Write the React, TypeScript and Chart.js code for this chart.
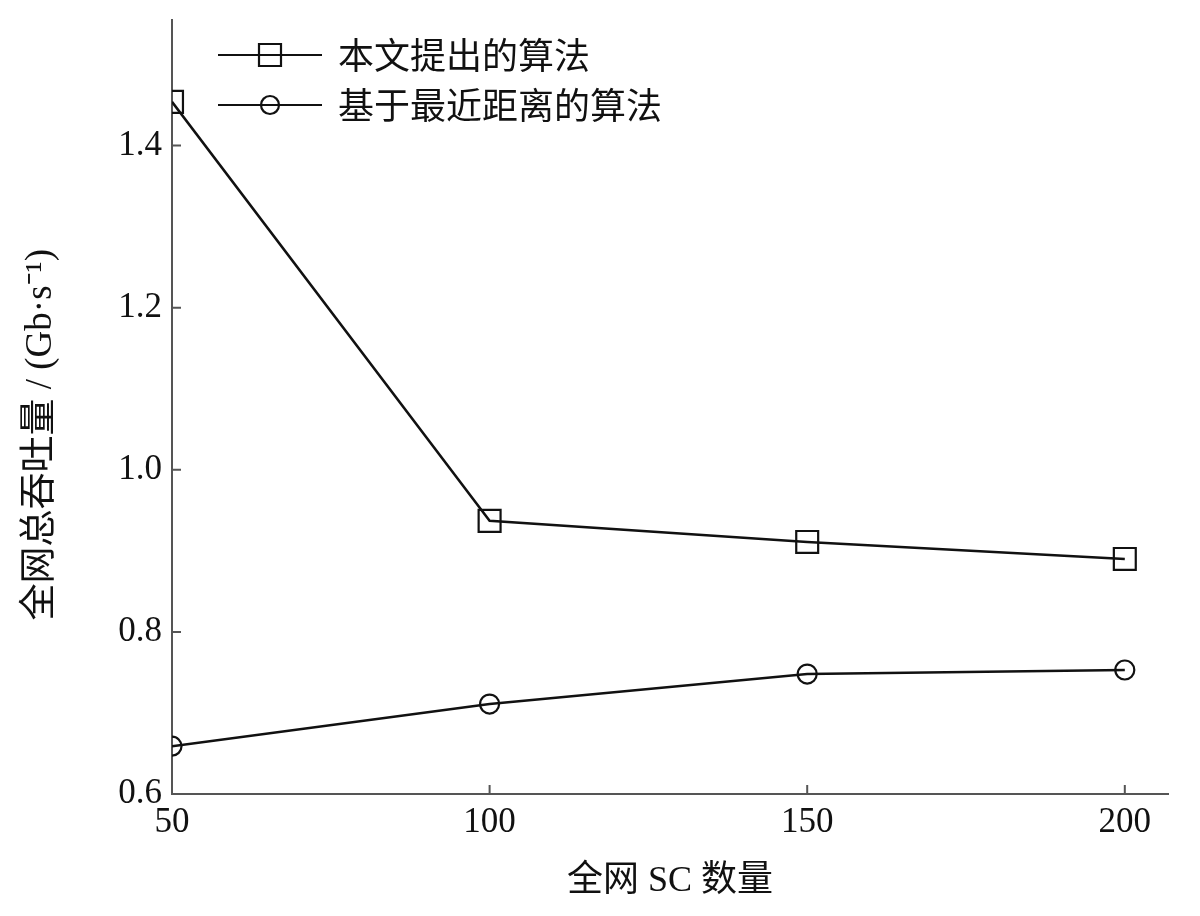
import React, { useEffect, useRef } from 'react';
import { Chart, registerables } from 'chart.js';

Chart.register(...registerables);

const xValues = [50, 100, 150, 200];
const proposed = [1.454, 0.937, 0.911, 0.89];
const nearest = [0.659, 0.711, 0.748, 0.753];
const xTicks = [50, 100, 150, 200];
const yTicks = [0.6, 0.8, 1.0, 1.2, 1.4];
const seriesNames = ['本文提出的算法', '基于最近距离的算法'];
const xTitle = '全网 SC 数量';
const yTitle = '全网总吞吐量 / (Gb·s⁻¹)';

const FONT = '"Liberation Serif", "Noto Sans CJK SC", serif';
const AXIS_COLOR = '#555';

const innerTicks = {
  id: 'innerTicks',
  afterDraw(chart: any) {
    const ctx = chart.ctx;
    const { left, bottom } = chart.chartArea;
    const xs = chart.scales.x;
    const ys = chart.scales.y;
    ctx.save();
    ctx.strokeStyle = AXIS_COLOR;
    ctx.lineWidth = 2;
    ctx.beginPath();
    yTicks.slice(1).forEach((v) => {
      const py = ys.getPixelForValue(v);
      ctx.moveTo(left, py);
      ctx.lineTo(left + 9, py);
    });
    xTicks.slice(1).forEach((v) => {
      const px = xs.getPixelForValue(v);
      ctx.moveTo(px, bottom);
      ctx.lineTo(px, bottom - 9);
    });
    ctx.stroke();
    ctx.restore();
  },
};

const insideLegend = {
  id: 'insideLegend',
  afterDatasetsDraw(chart: any) {
    const ctx = chart.ctx;
    const { left, top } = chart.chartArea;
    chart.data.datasets.forEach((ds: any, i: number) => {
      const y = top + 35 + i * 50;
      const x0 = left + 46;
      const x1 = left + 150;
      const xm = (x0 + x1) / 2;
      ctx.save();
      ctx.strokeStyle = ds.borderColor;
      ctx.lineWidth = 2.2;
      ctx.beginPath();
      ctx.moveTo(x0, y);
      ctx.lineTo(x1, y);
      ctx.stroke();
      ctx.beginPath();
      if (ds.pointStyle === 'rect') {
        ctx.rect(xm - 11, y - 11, 22, 22);
      } else {
        ctx.arc(xm, y, 9, 0, Math.PI * 2);
      }
      ctx.stroke();
      ctx.fillStyle = '#111';
      ctx.font = '36px "Noto Sans CJK SC", serif';
      ctx.textBaseline = 'middle';
      ctx.textAlign = 'left';
      ctx.fillText(ds.label, left + 166, y);
      ctx.restore();
    });
  },
};

export default function App() {
  const ref = useRef<HTMLCanvasElement | null>(null);
  useEffect(() => {
    if (!ref.current) return;
    const chart = new Chart(ref.current, {
      type: 'line',
      data: {
        datasets: [
          {
            label: seriesNames[0],
            data: xValues.map((x, i) => ({ x, y: proposed[i] })),
            borderColor: '#111',
            borderWidth: 2.5,
            pointStyle: 'rect',
            pointRadius: 15.5,
            pointBorderWidth: 2.2,
            pointBackgroundColor: 'rgba(0,0,0,0)',
            pointBorderColor: '#111',
            tension: 0,
          },
          {
            label: seriesNames[1],
            data: xValues.map((x, i) => ({ x, y: nearest[i] })),
            borderColor: '#111',
            borderWidth: 2.5,
            pointStyle: 'circle',
            pointRadius: 9.5,
            pointBorderWidth: 2.2,
            pointBackgroundColor: 'rgba(0,0,0,0)',
            pointBorderColor: '#111',
            tension: 0,
          },
        ],
      },
      options: {
        responsive: false,
        animation: false,
        layout: { padding: { left: 0, top: 20, right: 32, bottom: 0 } },
        plugins: {
          legend: { display: false },
          tooltip: { enabled: false },
        },
        scales: {
          x: {
            type: 'linear',
            min: 50,
            max: 206.8,
            afterBuildTicks: (s: any) => {
              s.ticks = xTicks.map((v) => ({ value: v }));
            },
            afterFit: (s: any) => {
              s.height = 122;
            },
            grid: { display: false, drawTicks: false },
            border: { display: true, color: AXIS_COLOR, width: 2 },
            ticks: {
              color: '#111',
              padding: 8,
              maxRotation: 0,
              font: { family: FONT, size: 35 },
              callback: (v: any) => String(v),
            },
            title: {
              display: true,
              text: xTitle,
              color: '#111',
              font: { family: FONT, size: 36 },
              padding: { top: 0, bottom: 13 },
            },
          },
          y: {
            type: 'linear',
            min: 0.6,
            max: 1.555,
            afterBuildTicks: (s: any) => {
              s.ticks = yTicks.map((v) => ({ value: v }));
            },
            afterFit: (s: any) => {
              s.width = 172;
              s.paddingTop = 0;
              s.paddingBottom = 0;
            },
            grid: { display: false, drawTicks: false },
            border: { display: true, color: AXIS_COLOR, width: 2 },
            ticks: {
              color: '#111',
              padding: 10,
              font: { family: FONT, size: 35 },
              callback: (v: any) => Number(v).toFixed(1),
            },
            title: {
              display: true,
              text: yTitle + '\u00a0\u00a0\u00a0\u00a0\u00a0\u00a0',
              color: '#111',
              font: { family: FONT, size: 37 },
              padding: { top: 19, bottom: 0 },
            },
          },
        },
      },
      plugins: [innerTicks, insideLegend],
    });
    return () => chart.destroy();
  }, []);
  return (
    <div style={{ position: 'absolute', left: 0, top: 0, width: 1200, height: 916, background: '#fff' }}>
      <canvas ref={ref} width={1200} height={916} />
    </div>
  );
}
